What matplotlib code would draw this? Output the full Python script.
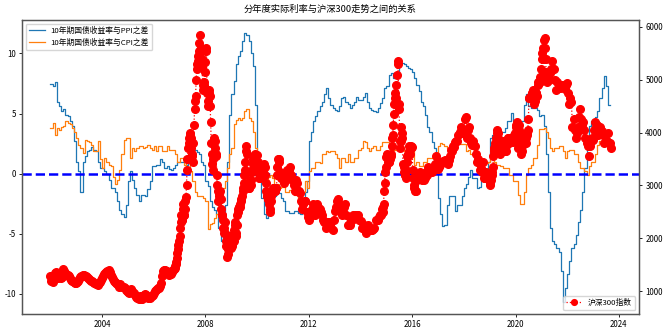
import pandas as pd
import matplotlib
matplotlib.use('Agg')
import matplotlib.pyplot as plt
import matplotlib.dates as mdates

plt.rcParams['font.family'] = ['Noto Sans CJK SC', 'DejaVu Sans']
plt.rcParams['axes.unicode_minus'] = False
plt.rcParams['font.size'] = 5.7

# 10年期国债收益率与PPI同比之差（%），月度，2002-01 ~ 2023-09
ppi_gap = [
    7.5, 7.3, 7.6, 6.0, 5.6, 5.2, 5.4, 4.9, 4.8, 4.4, 4.0, 2.7,
    1.0, 0.2, -1.5, 1.0, 1.5, 1.9, 2.0, 2.2, 2.0, 1.9, 1.0, 0.5,
    0.5, 0.2, 0.0, -0.5, -1.2, -1.2, -1.5, -2.3, -3.0, -3.4, -3.6, -2.6,
    -0.6, 0.2, -0.5, -1.2, -1.8, -2.3, -1.75, -1.8, -1.9, -1.3, -0.6, 0.6,
    0.6, 0.7, 0.7, 1.2, 1.0, 0.5, 0.6, 0.4, 0.3, 0.5, 0.7, 1.0,
    1.0, 1.0, 1.0, 0.7, 1.2, 1.9, 2.0, 2.0, 1.8, 1.6, 1.0, 0.7,
    -0.6, -1.0, -2.3, -2.8, -3.0, -3.4, -4.5, -5.6, -4.5, -2.6, 1.0, 4.9,
    6.6, 7.7, 9.1, 9.8, 10.2, 11.0, 11.7, 11.5, 11.0, 10.0, 9.0, 5.75,
    0.75, -0.6, -2.0, -3.4, -3.7, -2.8, -2.3, -1.9, -1.9, -1.6, -1.6, -2.0,
    -2.3, -3.1, -3.1, -3.3, -3.3, -3.1, -3.1, -3.3, -3.4, -2.3, -1.5, -0.6,
    2.7, 3.5, 4.4, 4.8, 5.2, 5.6, 6.0, 6.6, 7.1, 6.3, 5.75, 5.5,
    5.3, 5.2, 5.6, 6.3, 6.4, 6.0, 5.8, 5.5, 5.7, 6.0, 6.4, 6.1,
    6.1, 6.4, 6.7, 6.0, 5.5, 5.3, 5.2, 5.1, 5.5, 5.9, 6.3, 7.1,
    7.3, 8.25, 8.4, 8.0, 8.2, 8.5, 9.2, 9.2, 9.1, 9.0, 8.8, 8.75,
    8.5, 8.0, 7.4, 6.9, 6.0, 5.6, 4.9, 3.9, 3.5, 2.6, 2.1, 0.2,
    -2.0, -3.4, -4.4, -4.3, -2.6, -1.9, -1.9, -1.9, -3.1, -2.6, -2.6, -1.9,
    -1.2, -0.9, -0.3, 0.3, -0.4, -0.4, -1.2, -1.1, -0.5, -0.5, 0.3, 1.0,
    3.0, 3.2, 3.2, 3.8, 3.8, 3.5, 3.5, 3.8, 4.4, 4.4, 5.05, 4.4,
    3.5, 3.5, 4.4, 4.4, 5.75, 6.6, 5.6, 5.5, 5.5, 5.5, 5.3, 4.8,
    4.9, 4.0, 1.6, -1.5, -4.5, -5.6, -5.9, -6.2, -6.5, -8.1, -10.7, -9.5,
    -8.4, -7.3, -6.2, -5.9, -5.1, -4.0, -3.0, -1.5, 0.5, 3.0, 4.0, 4.4,
    4.5, 4.7, 5.2, 6.3, 7.1, 8.1, 7.3, 5.75, 5.75,
]

# 10年期国债收益率与CPI同比之差（%），月度
cpi_gap = [
    3.8, 4.2, 3.2, 3.8, 3.6, 3.9, 4.0, 4.4, 4.2, 4.1, 3.8, 3.5,
    3.0, 2.4, 2.1, 1.75, 2.8, 2.7, 2.6, 2.4, 1.9, 1.9, 2.7, 1.2,
    0.5, 1.3, 1.0, 0.7, 0.6, -0.3, -0.9, -0.5, 0.3, 1.6, 2.8, 3.0,
    3.0, 1.3, 2.1, 1.9, 2.1, 2.3, 2.3, 2.1, 2.2, 2.4, 2.1, 2.0,
    2.3, 1.9, 2.3, 2.3, 1.9, 1.9, 2.3, 2.0, 2.0, 2.0, 1.6, 1.0,
    1.3, 1.3, 0.7, 1.0, 1.0, 0.2, -0.6, -1.5, -1.9, -1.9, -1.9, -2.0,
    -2.3, -4.6, -4.2, -4.1, -3.7, -3.4, -2.8, -1.75, -1.2, -0.6, 0.5, 1.6,
    2.1, 4.1, 4.5, 4.6, 4.5, 4.6, 5.2, 5.35, 4.6, 4.4, 3.5, 2.1,
    0.5, 0.5, 0.5, 0.2, -0.6, -0.3, -0.1, -0.4, -0.9, -0.9, -1.2, -1.1,
    -1.1, -1.5, -1.5, -1.4, -1.5, -1.75, -1.75, -2.2, -2.3, -1.5, -0.6, -1.2,
    0.2, 0.5, 0.5, 1.0, 1.0, 0.9, 1.6, 1.6, 1.9, 1.8, 1.9, 1.9,
    1.6, 1.3, 0.5, 1.3, 1.3, 1.0, 1.6, 1.0, 1.0, 1.3, 1.3, 2.0,
    2.1, 2.7, 2.6, 2.1, 1.9, 2.1, 2.3, 2.0, 2.0, 2.3, 2.6, 2.6,
    2.6, 2.3, 2.1, 2.0, 2.0, 2.3, 2.1, 2.1, 1.9, 2.1, 2.1, 2.1,
    2.1, 0.7, 1.0, 0.6, 0.6, 1.0, 1.0, 1.3, 1.3, 1.3, 1.0, 1.0,
    2.3, 2.55, 2.5, 2.3, 2.1, 2.1, 2.1, 2.3, 2.3, 2.7, 2.5, 2.5,
    2.5, 1.9, 2.0, 1.6, 1.6, 1.6, 1.3, 1.3, 1.0, 0.9, 0.9, 1.0,
    1.3, 1.3, 1.0, 0.7, 0.7, 0.6, 0.5, 0.5, 0.5, -0.1, -0.1, -0.6,
    -0.6, -1.75, -2.5, -2.5, -1.5, -0.1, 0.5, 0.7, 1.3, 1.3, 2.4, 3.7,
    3.7, 3.8, 3.5, 3.0, 2.1, 1.9, 2.1, 2.1, 2.3, 2.3, 1.9, 1.3,
    1.9, 2.0, 2.0, 1.6, 1.6, 1.0, 0.5, 0.5, 0.2, -0.1, 0.6, 1.0,
    1.0, 1.6, 2.4, 2.7, 2.7, 3.0, 3.1, 3.1, 3.1,
]

# 沪深300指数，每月1日、15日取值，2002-01 ~ 2023-09
hs300 = [
    1290, 1200, 1180, 1260, 1340, 1360, 1300, 1250, 1270, 1280, 1250, 1260,
    1420, 1390, 1340, 1330, 1300, 1280, 1240, 1210, 1190, 1200, 1170, 1160,
    1150, 1170, 1200, 1230, 1260, 1290, 1300, 1310, 1290, 1290, 1270, 1250,
    1230, 1210, 1200, 1190, 1170, 1150, 1140, 1130, 1120, 1150, 1180, 1210,
    1250, 1290, 1320, 1340, 1360, 1380, 1400, 1370, 1300, 1270, 1230, 1190,
    1170, 1160, 1140, 1130, 1070, 1140, 1100, 1080, 1080, 1060, 1030, 1000,
    990, 960, 1000, 1040, 1000, 970, 960, 930, 880, 870, 850, 900,
    860, 860, 900, 930, 940, 920, 900, 870, 870, 880, 900, 920,
    960, 1000, 1020, 1040, 1050, 1060, 1100, 1160, 1280, 1380, 1400, 1400,
    1390, 1340, 1300, 1320, 1320, 1360, 1400, 1420, 1470, 1560, 1720, 1880,
    2040, 2300, 2350, 2550, 2450, 2550, 2780, 3300, 3700, 3900, 3950, 3900,
    3600, 3800, 4450, 4700, 5200, 5350, 5550, 5850, 5600, 5250, 4800, 4950,
    5340, 5600, 4600, 4800, 4700, 4200, 3600, 3300, 3900, 3700, 3550, 3000,
    2700, 2850, 2750, 2450, 2350, 2100, 2300, 1950, 1650, 1800, 1850, 2050,
    1820, 1900, 1950, 2300, 2050, 2250, 2500, 2600, 2600, 2700, 2800, 2950,
    3200, 3450, 3750, 3250, 2950, 3100, 3000, 3250, 3400, 3550, 3600, 3450,
    3575, 3350, 3150, 3200, 3250, 3300, 3400, 3350, 3050, 2800, 2750, 2700,
    2500, 2700, 2850, 2950, 2950, 2900, 2950, 3350, 3500, 3200, 3150, 3150,
    3130, 3050, 3100, 3250, 3300, 3200, 3300, 3350, 3200, 3100, 3000, 2900,
    3100, 3050, 2900, 2900, 2850, 2700, 2550, 2650, 2700, 2700, 2500, 2400,
    2345, 2400, 2450, 2550, 2650, 2550, 2450, 2600, 2650, 2600, 2550, 2500,
    2450, 2350, 2300, 2300, 2200, 2250, 2300, 2300, 2250, 2200, 2150, 2350,
    2520, 2600, 2700, 2750, 2650, 2550, 2500, 2450, 2500, 2600, 2650, 2450,
    2250, 2250, 2250, 2350, 2350, 2450, 2400, 2450, 2400, 2450, 2450, 2350,
    2330, 2200, 2200, 2250, 2150, 2100, 2150, 2250, 2150, 2150, 2150, 2150,
    2170, 2200, 2350, 2350, 2350, 2400, 2450, 2450, 2550, 2600, 2900, 3250,
    3530, 3580, 3450, 3500, 3550, 3750, 3950, 4350, 4750, 4650, 5100, 5300,
    4450, 3850, 3850, 4000, 3350, 3200, 3150, 3450, 3550, 3650, 3600, 3700,
    3730, 3150, 2950, 2900, 2900, 3100, 3220, 3250, 3160, 3100, 3170, 3100,
    3150, 3250, 3200, 3350, 3320, 3250, 3250, 3300, 3340, 3400, 3550, 3400,
    3310, 3350, 3390, 3450, 3450, 3460, 3470, 3480, 3440, 3400, 3490, 3550,
    3670, 3650, 3750, 3720, 3820, 3840, 3840, 3950, 4010, 4100, 4000, 4000,
    4030, 4250, 4300, 3900, 4050, 4100, 3900, 3800, 3760, 3850, 3750, 3600,
    3450, 3500, 3450, 3300, 3330, 3250, 3440, 3150, 3150, 3250, 3170, 3100,
    3010, 3100, 3200, 3350, 3700, 3750, 3900, 4050, 3900, 3650, 3600, 3700,
    3850, 3800, 3750, 3650, 3800, 3900, 3800, 3900, 3890, 3900, 3830, 3950,
    4100, 4200, 3700, 4050, 4000, 3700, 3650, 3800, 3900, 3800, 3900, 4000,
    4250, 4650, 4700, 4750, 4800, 4600, 4600, 4750, 4700, 4950, 4950, 5050,
    5210, 5500, 5400, 5800, 5400, 5050, 5050, 5000, 5120, 5200, 5350, 5200,
    5200, 5000, 4800, 4950, 4850, 4850, 4870, 4900, 4900, 4900, 4830, 4900,
    4940, 4750, 4550, 4650, 4580, 4100, 4250, 4050, 3900, 4000, 4100, 4300,
    4450, 4250, 4150, 4200, 4050, 3900, 3800, 3750, 3550, 3750, 3850, 3900,
    3870, 4050, 4200, 4100, 4150, 3950, 4050, 4100, 4030, 3950, 3800, 3950,
    3850, 3850, 4000, 3800, 3800, 3700,
]

# 波动较大的时段补充每月8日、22日的取值
hs300_mid_0610 = [
    1410, 1430, 1510, 1620, 1800, 1950,
    2200, 2450, 2350, 2650, 2450, 2700, 3000, 3500, 3800, 4000, 3700, 3550,
    3450, 4150, 4600, 5000, 5300, 5450, 5700, 5500, 5400, 4900, 4900, 5150,
    5550, 4750, 4500, 4750, 4500, 3800, 3400, 3500, 3850, 3600, 3200, 2900,
    2800, 2900, 2550, 2450, 2200, 2200, 2100, 1850, 1700, 1900, 2050, 1900,
    1850, 1950, 2150, 2250, 2100, 2450, 2550, 2600, 2650, 2750, 2900, 3050,
    3300, 3650, 3600, 3000, 2950, 3050, 3100, 3300, 3500, 3550, 3550, 3400,
    3450, 3250, 3150, 3250, 3250, 3300, 3350, 3200, 2900, 2800, 2750, 2650,
    2550, 2800, 2900, 2950, 2900, 2950, 3200, 3500, 3450, 3250, 3200, 3150,
]
hs300_mid_1411 = [
    2500, 2650, 3050, 3350,
    3600, 3450, 3450, 3550, 3600, 3900, 4150, 4550, 4650, 4900, 5350, 4550,
    3700, 4100, 3900, 3400, 3250, 3200, 3300, 3550, 3600, 3750, 3700, 3750,
    3300, 3000,
]
hs300_mid_1901 = [
    3050, 3200, 3250, 3550, 3650, 3800, 4000, 4000, 3750, 3650, 3650, 3800,
    3800, 3800, 3650, 3750, 3850, 3900, 3850, 3900, 3900, 3900, 3880, 4000,
    4150, 4150, 3850, 4150, 3950, 3600, 3750, 3850, 3850, 3800, 3950, 4050,
    4650, 4650, 4700, 4750, 4700, 4550, 4700, 4750, 4900, 4950, 4950, 5050,
    5400, 5600, 5750, 5600, 5150, 4950,
]


def mid_month(start, values):
    dates = pd.date_range(start, periods=len(values), freq='SMS') + pd.Timedelta(days=7)
    return pd.Series(values, index=dates)


months = pd.date_range('2002-01-01', periods=len(ppi_gap), freq='MS')
half_months = pd.date_range('2002-01-01', periods=len(hs300), freq='SMS')
hs = pd.concat([
    pd.Series(hs300, index=half_months),
    mid_month('2006-10-01', hs300_mid_0610),
    mid_month('2014-11-01', hs300_mid_1411),
    mid_month('2019-01-01', hs300_mid_1901),
]).sort_index()

fig = plt.figure(figsize=(6.65, 3.31), dpi=100)
ax = fig.add_subplot(111)
fig.subplots_adjust(left=0.033, right=0.961, bottom=0.051, top=0.94)

ax.plot(months, ppi_gap, drawstyle='steps-post', lw=0.9, label='10年期国债收益率与PPI之差')
ax.plot(months, cpi_gap, drawstyle='steps-post', lw=0.9, label='10年期国债收益率与CPI之差')
ax.axhline(0, color='blue', linestyle='--', lw=1.8)
ax.legend(loc='upper left', fontsize=5.6)
ax.set_ylim(-11.7, 12.8)
ax.set_yticks([-10, -5, 0, 5, 10])
ax.set_xlim(pd.Timestamp('2000-11-24'), pd.Timestamp('2024-10-12'))
ax.xaxis.set_major_locator(mdates.YearLocator(4))
ax.xaxis.set_major_formatter(mdates.DateFormatter('%Y'))
ax.set_title('分年度实际利率与沪深300走势之间的关系', fontsize=6.7)

ax2 = ax.twinx()
ax2.plot(hs.index, hs.values, color='red', linestyle=':', marker='o',
         markersize=5.5, lw=0.9, label='沪深300指数')
ax2.set_ylim(565, 6135)
ax2.legend(loc='lower right', fontsize=5.6, markerscale=0.75)

for a in (ax, ax2):
    a.tick_params(labelsize=5.7, length=2.5, width=0.6, pad=2)
    for s in a.spines.values():
        s.set_color('#555555')
        s.set_linewidth(0.9)

fig.savefig('out.png', dpi=100)
